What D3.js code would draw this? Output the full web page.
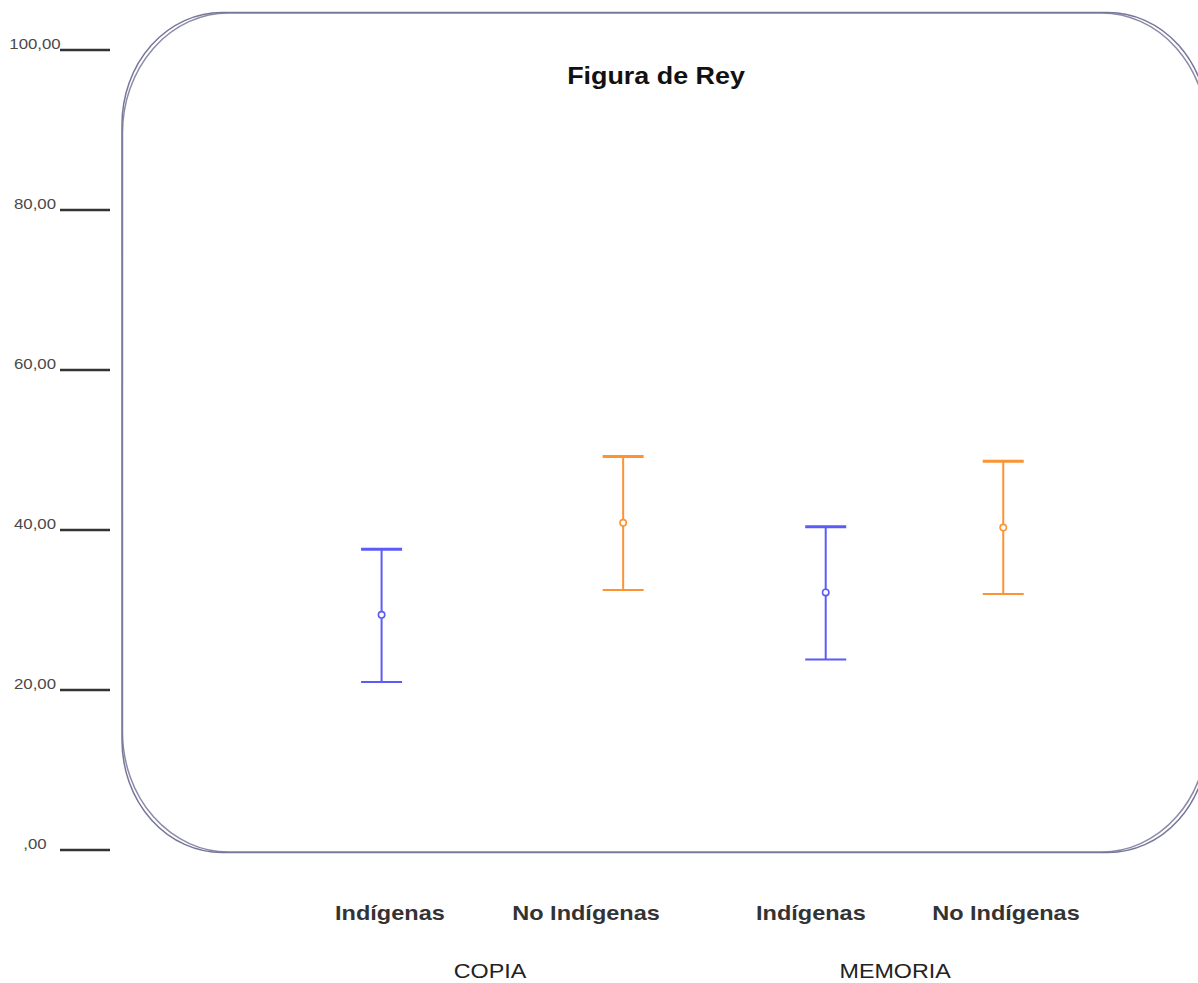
<!DOCTYPE html>
<html>
<head>
<meta charset="utf-8">
<script src="https://cdn.jsdelivr.net/npm/d3@7"></script>
<style>
  html, body { margin: 0; padding: 0; background: #fff; }
  svg { display: block; font-family: "Liberation Sans", Arial, sans-serif; }
</style>
</head>
<body>
<svg id="chart" width="1198" height="983"></svg>
<script>
// Rey figure scores: mean with confidence interval per group
const groups = ["COPIA", "MEMORIA"];
const groupSlots = [1.368, 2.874];

const categories = ["Indígenas", "No Indígenas", "Indígenas", "No Indígenas"];
const labelSlots = [0.996, 1.725, 2.561, 3.286];
const barSlots = [0.965, 1.863, 2.616, 3.276];

const means = [29.4, 40.9, 32.2, 40.3];
const lower = [21.0, 32.5, 23.8, 32.0];
const upper = [37.6, 49.2, 40.4, 48.6];
const seriesColors = ["#5b5bf7", "#fd9434", "#5b5bf7", "#fd9434"];

const yTicks = [0, 20, 40, 60, 80, 100];
const yTickLabels = [",00", "20,00", "40,00", "60,00", "80,00", "100,00"];

const title = "Figura de Rey";

const svg = d3.select("#chart");
const x = d3.scaleLinear().domain([0, 4]).range([122, 1198]);
const y = d3.scaleLinear().domain([0, 100]).range([850, 50]);
const stretch = 1.12;

// hand-drawn rounded frame (two overlapping strokes)
const frame = svg.append("g").attr("fill", "none").attr("stroke", "#77779a").attr("stroke-width", 1.5);
frame.append("rect").attr("x", 122).attr("y", 12.5).attr("width", 1086).attr("height", 840)
  .attr("rx", 100).attr("ry", 112);
frame.append("rect").attr("x", 122.5).attr("y", 13).attr("width", 1085).attr("height", 839)
  .attr("rx", 106).attr("ry", 120).attr("stroke-opacity", 0.85);

// y axis: short tick bars with centred labels
const axis = svg.append("g");
axis.selectAll("line").data(yTicks).join("line")
  .attr("x1", 60).attr("x2", 110)
  .attr("y1", d => y(d)).attr("y2", d => y(d))
  .attr("stroke", "#333").attr("stroke-width", 2.5);
axis.selectAll("text").data(yTicks).join("text")
  .attr("transform", d => `translate(35,${y(d) - 1}) scale(${stretch},1)`)
  .attr("text-anchor", "middle")
  .attr("font-size", 15)
  .attr("fill", "#4a4a4a")
  .text((d, i) => yTickLabels[i]);

// title
svg.append("text")
  .attr("transform", `translate(656,84) scale(${stretch},1)`)
  .attr("text-anchor", "middle")
  .attr("font-size", 24).attr("font-weight", "bold").attr("fill", "#111")
  .text(title);

// error bars
const bars = svg.append("g").selectAll("g").data(means).join("g")
  .attr("stroke", (d, i) => seriesColors[i]);
const capHalf = 20.5;
bars.append("line")
  .attr("x1", (d, i) => x(barSlots[i])).attr("x2", (d, i) => x(barSlots[i]))
  .attr("y1", (d, i) => y(upper[i])).attr("y2", (d, i) => y(lower[i]))
  .attr("stroke-width", 2);
bars.append("line")
  .attr("x1", (d, i) => x(barSlots[i]) - capHalf).attr("x2", (d, i) => x(barSlots[i]) + capHalf)
  .attr("y1", (d, i) => y(upper[i])).attr("y2", (d, i) => y(upper[i]))
  .attr("stroke-width", 3);
bars.append("line")
  .attr("x1", (d, i) => x(barSlots[i]) - capHalf).attr("x2", (d, i) => x(barSlots[i]) + capHalf)
  .attr("y1", (d, i) => y(lower[i])).attr("y2", (d, i) => y(lower[i]))
  .attr("stroke-width", 2);
bars.append("circle")
  .attr("cx", (d, i) => x(barSlots[i]))
  .attr("cy", d => y(d))
  .attr("r", 3.2)
  .attr("fill", "#fff")
  .attr("stroke-width", 1.6);

// category labels
svg.append("g").selectAll("text").data(categories).join("text")
  .attr("transform", (d, i) => `translate(${x(labelSlots[i])},920) scale(${stretch},1)`)
  .attr("text-anchor", "middle")
  .attr("font-size", 21).attr("font-weight", "bold").attr("fill", "#333")
  .text(d => d);

// group labels
svg.append("g").selectAll("text").data(groups).join("text")
  .attr("transform", (d, i) => `translate(${x(groupSlots[i])},978) scale(${stretch * 1.04},1)`)
  .attr("text-anchor", "middle")
  .attr("font-size", 20).attr("fill", "#222")
  .text(d => d);
</script>
</body>
</html>
